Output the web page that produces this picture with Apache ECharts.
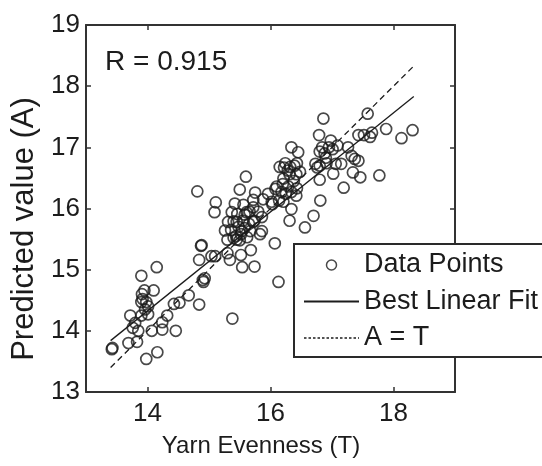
<!DOCTYPE html>
<html>
<head>
<meta charset="utf-8">
<title>Yarn Evenness regression</title>
<script src="https://cdn.jsdelivr.net/npm/echarts@6/dist/echarts.min.js"></script>
<style>
  html, body { margin: 0; padding: 0; background: #fff; }
  #chart { width: 542px; height: 466px; }
</style>
</head>
<body>
<div id="chart"></div>
<script>
// Measured yarn evenness (T) against the network's predicted value (A)
const yarnEvenness = [
  13.42, 13.43, 13.69, 13.83, 13.98, 14.16, 13.72, 13.80, 13.76, 13.85,
  13.90, 13.90, 13.92, 13.91, 13.90, 13.95, 13.98, 14.01, 14.07, 14.10,
  14.15, 14.24, 14.24, 14.32, 14.46, 14.43, 14.52, 14.67, 14.84, 14.84,
  14.87, 14.88, 14.90, 14.93, 14.91, 14.01, 13.96,
  14.81, 15.11, 15.09, 15.04, 15.10, 15.26, 15.30, 15.34, 15.38, 15.40,
  15.36, 15.42, 15.46, 15.44, 15.52, 15.55, 15.62, 15.52, 15.54, 15.68,
  15.74, 15.60, 15.50, 15.75, 15.72, 15.74, 15.83, 15.86, 15.88, 15.96,
  16.03, 16.08, 16.14, 15.48, 15.58, 15.65, 15.50, 15.40, 15.66, 15.80,
  15.58, 15.56, 15.72, 15.37, 15.31, 15.45, 15.72, 15.53, 15.67, 15.86,
  15.30, 15.45, 15.61, 16.02,
  16.20, 16.22, 16.25, 16.31, 16.34, 16.39, 16.45, 16.34, 16.31, 16.42,
  16.42, 16.15, 16.21, 16.10, 16.28, 16.38, 16.07, 16.13, 16.56, 16.70,
  16.32, 16.24, 16.43, 16.48, 16.29, 16.43, 16.18, 16.34, 16.21,
  16.81, 16.80, 16.76, 16.73, 16.79, 16.86, 16.84, 16.90, 16.95, 16.98,
  17.01, 17.06, 17.09, 17.15, 17.19, 17.26, 17.32, 17.34, 17.37, 17.43,
  17.46, 17.43, 17.52, 17.58, 17.62, 17.65, 17.77, 17.88, 18.13, 18.31,
  16.88, 16.80, 16.91, 17.02, 16.80
];
const predictedValue = [
  13.70, 13.72, 13.80, 13.82, 13.54, 13.65, 14.25, 14.13, 14.05, 14.00,
  14.25, 14.47, 14.52, 14.60, 14.90, 14.66, 14.47, 14.27, 14.00, 14.66,
  15.04, 14.02, 14.14, 14.25, 14.00, 14.44, 14.46, 14.58, 14.43, 15.16,
  15.39, 15.40, 14.83, 14.86, 14.80, 14.40, 14.35,
  16.28, 16.10, 15.94, 15.22, 15.22, 15.64, 15.27, 15.16, 14.20, 15.79,
  15.65, 16.08, 15.91, 15.55, 15.58, 15.80, 15.53, 15.24, 15.04, 15.32,
  15.05, 16.52, 16.31, 16.26, 16.02, 15.80, 15.58, 15.86, 16.15, 16.24,
  16.07, 16.32, 16.13, 15.70, 15.68, 15.75, 15.48, 15.52, 15.95, 15.95,
  15.90, 16.06, 16.14, 15.94, 15.78, 15.78, 15.78, 15.63, 15.63, 15.63,
  15.49, 15.49, 15.94, 16.11,
  16.40, 16.67, 16.24, 16.56, 17.00, 16.70, 16.92, 15.99, 15.80, 16.21,
  16.56, 16.68, 16.49, 16.36, 16.62, 16.45, 15.43, 14.80, 15.69, 15.88,
  16.68, 16.74, 16.74, 16.60, 16.36, 16.33, 16.27, 16.27, 16.11,
  16.13, 16.47, 16.67, 16.73, 17.20, 17.47, 17.00, 16.83, 17.00, 17.11,
  16.97, 16.73, 17.03, 16.73, 16.34, 17.00, 16.86, 16.59, 16.81, 16.78,
  16.51, 17.20, 17.20, 17.55, 17.17, 17.24, 16.54, 17.30, 17.15, 17.28,
  16.90, 16.70, 16.74, 16.57, 16.93
];

// Least-squares fit end points and the A = T reference line
const fitT = [13.40, 18.33];
const fitA = [13.84, 17.83];
const identityT = [13.40, 18.33];

const correlationR = 0.915;
const xTicks = [14, 16, 18];
const yTicks = [13, 14, 15, 16, 17, 18, 19];

const seriesNames = ['Data Points', 'Best Linear Fit', 'A = T'];

const points = yarnEvenness.map((t, i) => [t, predictedValue[i]]);
const fitLine = fitT.map((t, i) => [t, fitA[i]]);
const identityLine = identityT.map(t => [t, t]);

const FONT = '"Liberation Sans", Arial, sans-serif';
const INK = '#1c1c1c';
const FRAME = '#333';
const CLEAR = 'rgba(0,0,0,0)';

const chart = echarts.init(document.getElementById('chart'), null, { renderer: 'canvas' });

const xBase = {
  type: 'value', min: 13, max: 19, splitNumber: 3,
  splitLine: { show: false },
  axisLine: { show: true, onZero: false, lineStyle: { color: FRAME, width: 2 } },
  axisTick: { show: true, inside: true, length: 5, lineStyle: { color: FRAME, width: 1.5 } }
};
const yBase = {
  type: 'value', min: yTicks[0], max: yTicks[yTicks.length - 1], interval: 1,
  splitLine: { show: false },
  axisLine: { show: true, onZero: false, lineStyle: { color: FRAME, width: 2 } },
  axisTick: { show: true, inside: true, length: 5, lineStyle: { color: FRAME, width: 1.5 } }
};

chart.setOption({
  backgroundColor: '#fff',
  animation: false,
  color: [INK, INK, INK],
  title: {
    text: 'R = ' + correlationR.toFixed(3),
    left: 100, top: 41,
    textStyle: { fontFamily: FONT, fontSize: 28, fontWeight: 'normal', color: INK, lineHeight: 32 }
  },
  grid: { left: 86, right: 87, top: 25, bottom: 74, containLabel: false },
  xAxis: [
    Object.assign({}, xBase, {
      position: 'bottom',
      name: 'Yarn Evenness (T)',
      nameLocation: 'middle',
      nameGap: 42,
      nameTextStyle: { fontFamily: FONT, fontSize: 24, color: INK, padding: [0, 19, 0, 0] },
      axisLabel: {
        fontFamily: FONT, fontSize: 26, color: INK, margin: 9,
        showMinLabel: false, showMaxLabel: false,
        formatter: v => (xTicks.indexOf(v) >= 0 ? String(v) : '')
      }
    }),
    Object.assign({}, xBase, { position: 'top', axisLabel: { show: false } })
  ],
  yAxis: [
    Object.assign({}, yBase, {
      position: 'left',
      name: 'Predicted value (A)',
      nameLocation: 'middle',
      nameGap: 45,
      nameTextStyle: { fontFamily: FONT, fontSize: 31, color: INK, padding: [0, 41, 0, 0] },
      axisLabel: { fontFamily: FONT, fontSize: 26, color: INK, margin: 6 }
    }),
    Object.assign({}, yBase, { position: 'right', axisLabel: { show: false } })
  ],
  legend: {
    orient: 'vertical',
    left: 294, top: 244,
    padding: [6, 30, 4, 9],
    itemWidth: 55, itemHeight: 10, itemGap: 6.5,
    backgroundColor: '#fff',
    borderColor: '#2a2a2a', borderWidth: 2,
    selectedMode: false,
    textStyle: { fontFamily: FONT, fontSize: 27, color: INK, lineHeight: 30 },
    data: [
      { name: seriesNames[0], icon: 'circle',
        itemStyle: { color: CLEAR, borderColor: INK, borderWidth: 1.5 } },
      { name: seriesNames[1],
        itemStyle: { color: CLEAR, borderColor: CLEAR, borderWidth: 0, opacity: 0 } },
      { name: seriesNames[2],
        itemStyle: { color: CLEAR, borderColor: CLEAR, borderWidth: 0, opacity: 0 },
        lineStyle: { type: [2.5, 2], width: 1.3, color: INK } }
    ]
  },
  series: [
    {
      name: seriesNames[0], type: 'scatter',
      data: points, symbol: 'circle', symbolSize: 11,
      itemStyle: { color: CLEAR, borderColor: INK, borderWidth: 1.7 },
      z: 3
    },
    {
      name: seriesNames[1], type: 'line',
      data: fitLine, symbol: 'none',
      lineStyle: { color: INK, width: 1.3, type: 'solid' },
      z: 2
    },
    {
      name: seriesNames[2], type: 'line',
      data: identityLine, symbol: 'none',
      lineStyle: { color: INK, width: 1.3, type: [6, 4] },
      z: 2
    }
  ]
});
</script>
</body>
</html>
